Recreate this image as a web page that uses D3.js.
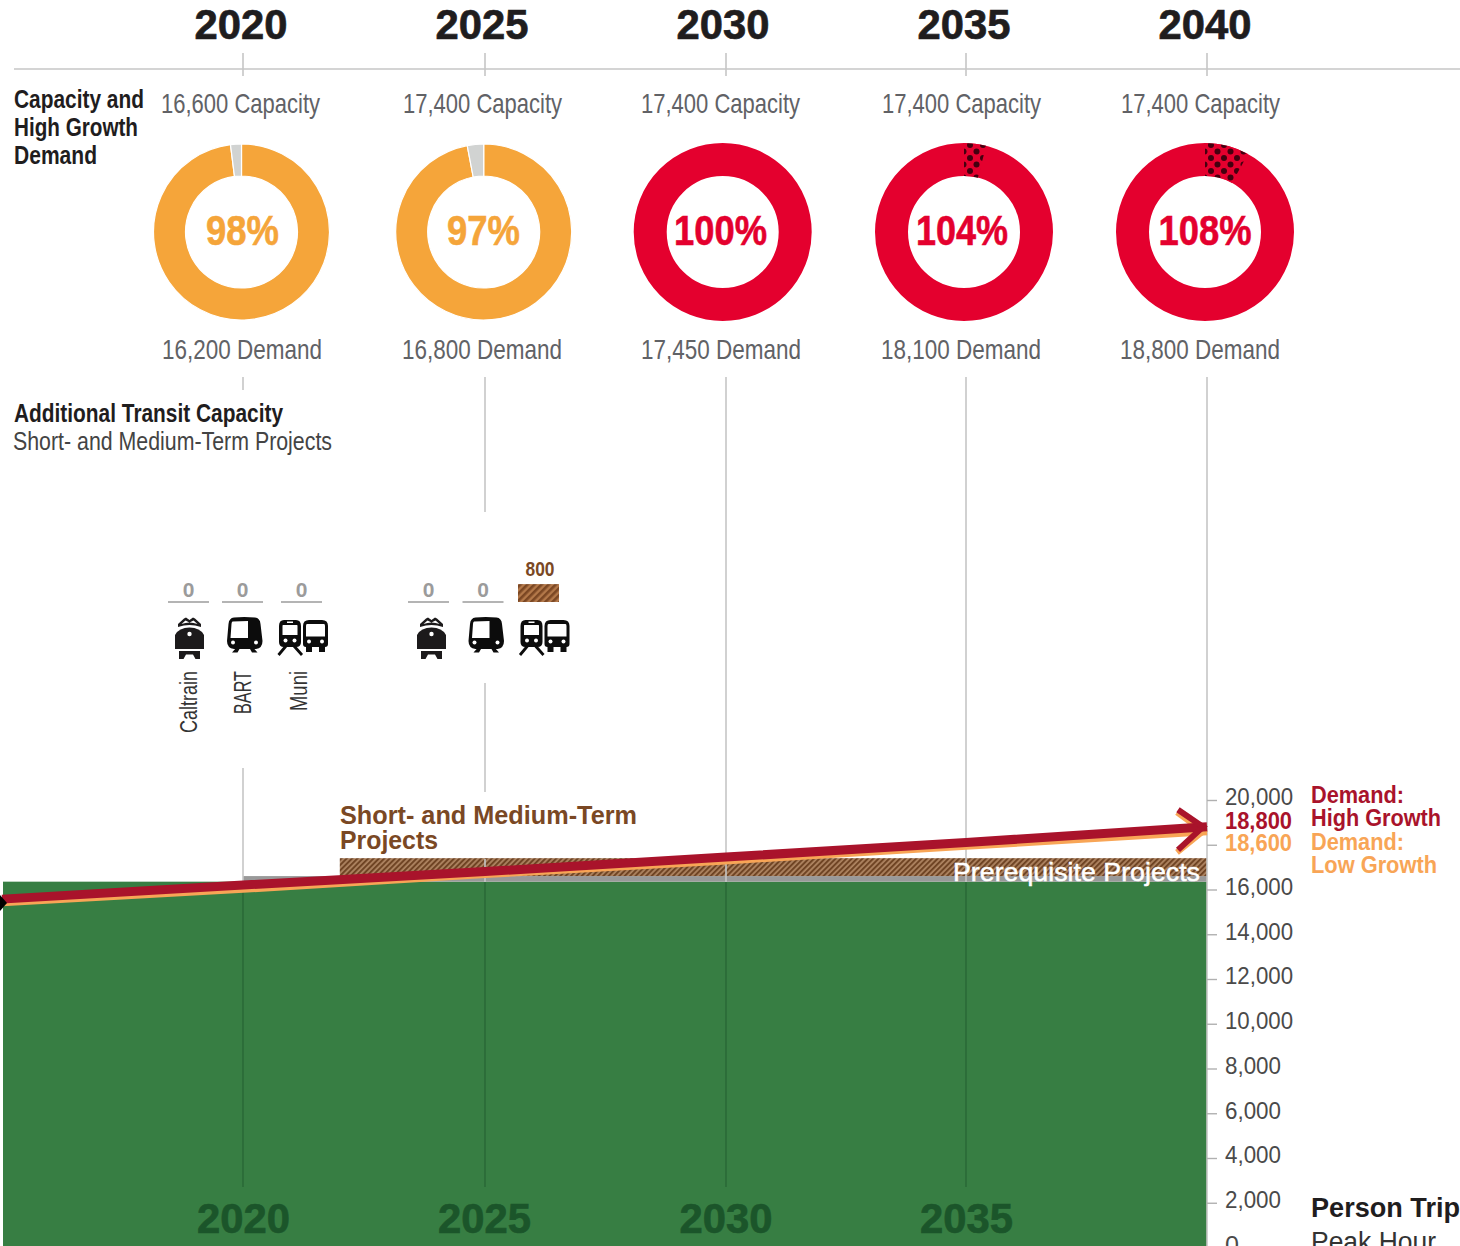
<!DOCTYPE html>
<html>
<head>
<meta charset="utf-8">
<style>
  html, body { margin: 0; padding: 0; background: #fff; overflow: hidden; }
  svg { display: block; }
  text { font-family: "Liberation Sans Narrow", "Liberation Sans", sans-serif; }
</style>
<script src="https://cdnjs.cloudflare.com/ajax/libs/d3/7.8.5/d3.min.js"></script>
</head>
<body>
<svg id="chart" width="1460" height="1246"></svg>
<script>
// Peak-hour person trips against transit capacity, 2020 to 2040
const years = [2020, 2025, 2030, 2035, 2040];
const capacity = [16600, 17400, 17400, 17400, 17400];
const demand = [16200, 16800, 17450, 18100, 18800];
const percent = [98, 97, 100, 104, 108];
const trendYears = [2015, 2020, 2025, 2030, 2035, 2040];
const highGrowth = [15570, 16200, 16800, 17450, 18100, 18800];
const lowGrowth = [15430, 16030, 16690, 17300, 17950, 18600];
const existingCapacity = 16350;
const prerequisiteTop = 16600;
const shortMediumTop = 17400;
const shortMediumStart = 2022;
const axisTicks = [0, 2000, 4000, 6000, 8000, 10000, 12000, 14000, 16000, 18000, 20000];
const operators = ["Caltrain", "BART", "Muni"];
const additions2020 = [0, 0, 0];
const additions2025 = [0, 0, 800];

const COL = {
  orange: "#f5a53a", red: "#e4002e", green: "#377e43", greenDark: "#1b552a", gridGreen: "#2a6a38",
  grey: "#c6c6c6", slice: "#d1d3d2", band: "#999999", brown: "#7a4824",
  high: "#a9132b", low: "#f8a556", ink: "#1f1d1e", soft: "#616266", zero: "#9b9b9b"
};

const svg = d3.select("#chart");
const defs = svg.append("defs");

// Diagonal brown hatch used by the project bands and the 800 swatch
function addHatch(id, size, bg, fg, w) {
  const p = defs.append("pattern").attr("id", id).attr("patternUnits", "userSpaceOnUse")
    .attr("width", size).attr("height", size).attr("patternTransform", "rotate(45)");
  p.append("rect").attr("width", size).attr("height", size).attr("fill", bg);
  p.append("rect").attr("width", w).attr("height", size).attr("fill", fg);
}
addHatch("hatch", 3.8, "#ad8360", "#6f4424", 2);
addHatch("hatchSwatch", 5, "#b4794a", "#7b4723", 2.6);

// Staggered dots marking demand above capacity on the rings
const dots = defs.append("pattern").attr("id", "overflowDots").attr("patternUnits", "userSpaceOnUse")
  .attr("width", 13).attr("height", 13).attr("x", 3).attr("y", 1);
dots.append("rect").attr("width", 13).attr("height", 13).attr("fill", COL.red);
[[3, 3], [9.5, 9.5]].forEach(c => dots.append("circle").attr("cx", c[0]).attr("cy", c[1]).attr("r", 3).attr("fill", "#43000f"));

function label(text, x, y, o) {
  const t = svg.append("text").attr("x", x).attr("y", y).text(text)
    .attr("font-size", o.size).attr("font-weight", o.weight || 400).attr("fill", o.color || COL.ink)
    .attr("text-anchor", o.anchor || "start");
  if (o.family) t.style("font-family", o.family);
  if (o.width) t.attr("textLength", o.width).attr("lengthAdjust", "spacingAndGlyphs");
  if (o.rotate) t.attr("transform", `rotate(${o.rotate} ${x} ${y})`);
  if (o.heavy) t.attr("stroke", o.color || COL.ink).attr("stroke-width", o.heavy);
  return t;
}

const WIDE = '"Liberation Sans", sans-serif';

// Shared scales for the whole timeline
const x = d3.scaleLinear().domain([2015, 2020, 2025, 2030, 2035, 2040]).range([2, 243, 485, 726, 966, 1207]);
const y = d3.scaleLinear().domain([0, 20000]).range([1247.5, 800]);
const chartBottom = 1246;

// Stacked capacity area
const area = svg.append("g");
area.append("rect").attr("x", x(2015) + 1).attr("width", x(2040) - x(2015) - 1)
  .attr("y", y(existingCapacity)).attr("height", chartBottom - y(existingCapacity)).attr("fill", COL.green);
area.append("rect").attr("x", x(2020)).attr("width", x(2040) - x(2020))
  .attr("y", y(prerequisiteTop)).attr("height", y(existingCapacity) - y(prerequisiteTop)).attr("fill", COL.band);
area.append("rect").attr("x", x(shortMediumStart)).attr("width", x(2040) - x(shortMediumStart))
  .attr("y", y(shortMediumTop)).attr("height", y(prerequisiteTop) - y(shortMediumTop)).attr("fill", "url(#hatch)");

// Year guides, broken where the ring and icon blocks sit
const guideSpans = [
  [[53, 76], [377, 390], [768, 882]],
  [[53, 76], [377, 512], [683, 792], [859, 882]],
  [[53, 76], [377, 882]],
  [[53, 76], [377, 882]],
  [[53, 76], [377, chartBottom]]
];
years.forEach((yr, i) => {
  guideSpans[i].forEach(s => {
    svg.append("line").attr("x1", x(yr)).attr("x2", x(yr)).attr("y1", s[0]).attr("y2", s[1])
      .attr("stroke", COL.grey).attr("stroke-width", 1.6);
  });
  if (yr < 2040) {
    svg.append("line").attr("x1", x(yr)).attr("x2", x(yr)).attr("y1", 882).attr("y2", 1187)
      .attr("stroke", COL.gridGreen).attr("stroke-width", 1.6);
  }
});
svg.append("line").attr("x1", 14).attr("x2", 1460).attr("y1", 69).attr("y2", 69)
  .attr("stroke", COL.grey).attr("stroke-width", 1.6);

// Year headers above the rings and inside the green area
const headerCentres = [241, 482, 723, 964, 1205];
const footerCentres = [243.5, 484.5, 726, 966.5];
years.forEach((yr, i) => label(yr, headerCentres[i], 38.5, { size: 43, weight: 700, anchor: "middle", width: 93, family: WIDE, heavy: 0.7 }));
years.slice(0, 4).forEach((yr, i) => label(yr, footerCentres[i], 1233, { size: 43, weight: 700, anchor: "middle", width: 93, color: COL.greenDark, family: WIDE, heavy: 0.7 }));

// Section headings
label("Capacity and", 14, 107.5, { size: 25, weight: 700, width: 130 });
label("High Growth", 14, 135.5, { size: 25, weight: 700, width: 124 });
label("Demand", 14, 163.5, { size: 25, weight: 700, width: 83 });
label("Additional Transit Capacity", 14, 422, { size: 25, weight: 700, width: 269 });
label("Short- and Medium-Term Projects", 13, 450, { size: 25, width: 319, color: "#444" });

// Capacity and demand rings
const ringCentres = [241.5, 483.7, 722.7, 964, 1205];
const capLeft = [161, 403, 641, 882, 1121];
const demLeft = [162, 402, 641, 881, 1120];
const pctWidth = [73, 73, 93, 92, 93];
const pctCentre = [242.5, 483.5, 720.5, 962, 1205];
const pie = d3.pie().sort(null).value(d => d.v);

years.forEach((yr, i) => {
  const over = percent[i] >= 100;
  const outer = over ? 89 : 88;
  const arc = d3.arc().innerRadius(56).outerRadius(outer);
  const g = svg.append("g").attr("transform", `translate(${ringCentres[i]},232)`);
  if (over) {
    g.append("circle").attr("r", (outer + 56) / 2).attr("fill", "none")
      .attr("stroke", COL.red).attr("stroke-width", outer - 56);
    const extra = percent[i] - 100;
    if (extra > 0) {
      g.append("path").attr("d", arc({ startAngle: 0, endAngle: extra / 100 * 2 * Math.PI }))
        .attr("fill", "url(#overflowDots)");
    }
  } else {
    const slices = pie([{ v: percent[i], c: COL.orange }, { v: 100 - percent[i], c: COL.slice }]);
    g.selectAll("path").data(slices).join("path").attr("d", arc).attr("fill", d => d.data.c)
      .attr("stroke", "#fff").attr("stroke-width", 1.2);
  }
  label(`${percent[i]}%`, pctCentre[i], 245, { size: 43, weight: 700, anchor: "middle", width: pctWidth[i], color: over ? COL.red : COL.orange, heavy: 0.6 });
  label(`${d3.format(",")(capacity[i])} Capacity`, capLeft[i], 112.5, { size: 28, width: 159, color: COL.soft });
  label(`${d3.format(",")(demand[i])} Demand`, demLeft[i], 359, { size: 28, width: 160, color: COL.soft });
});

// Operator pictograms, each built in its own local box
function icon(kind, ox, oy) {
  const g = svg.append("g").attr("transform", `translate(${ox},${oy})`);
  const ink = "#0c0c0c";
  const lamp = (cx, cy, r) => g.append("circle").attr("cx", cx).attr("cy", cy).attr("r", r).attr("fill", "#fff");
  if (kind === "Caltrain") {
    g.append("path").attr("fill", "#1c1a1b").attr("fill-rule", "evenodd")
      .attr("d", "M3 11V8L9 2.5L11 1.5L14.5 4L18 1.5L20 2.5L26 8V11Q14.5 7 3 11ZM6.5 8Q14.5 5 22.5 8L18.5 4.5L14.5 6.5L10.5 4.5Z");
    g.append("path").attr("fill", "#1c1a1b")
      .attr("d", "M0 19Q4 11.5 14.5 11.5Q25 11.5 29 19V33H0Z");
    lamp(14.5, 18, 2.2);
    g.append("path").attr("fill", "#1c1a1b")
      .attr("d", "M4 35H25V43H20.5L18 38.5H11L8.5 43H4Z");
  } else if (kind === "BART") {
    g.append("path").attr("fill", ink).attr("fill-rule", "evenodd")
      .attr("d", "M7 0.5Q17 -0.5 28 0.5Q33 1 33.5 7L35.5 24Q35.5 31 29 32H7Q0 31 0 24L1.5 7Q2 1 7 0.5ZM5.5 4.5Q4.5 5 4.5 7L3.5 21H21V4Z");
    lamp(6, 25.5, 2);
    lamp(29, 25.5, 2);
    g.append("path").attr("d", "M9 31L5 35.5H10.5L12.5 32H23L25 35.5H30.5L26.5 31Z").attr("fill", ink);
  } else {
    g.append("path").attr("fill", ink).attr("fill-rule", "evenodd")
      .attr("d", "M6 0H18Q23 0 23 6V22Q23 27 18 27H6Q1 27 1 22V6Q1 0 6 0ZM5 5Q4.5 5 4.5 6V15H19.5V6Q19.5 5 19 5ZM9 1.5V3H15V1.5Z");
    lamp(7.5, 20.5, 2);
    lamp(16.5, 20.5, 2);
    g.append("path").attr("d", "M8 26L0.5 35M16 26L24 35").attr("stroke", ink).attr("stroke-width", 2.8);
    g.append("path").attr("fill", ink).attr("fill-rule", "evenodd")
      .attr("d", "M31 0H44Q50 0 50 6V24Q50 27 47 27V32H41V27H34V32H28V27Q25 27 25 24V6Q25 0 31 0ZM29 4Q28 4 28 6V16.5H47V6Q47 4 46 4Z");
    lamp(31, 21.5, 2);
    lamp(44, 21.5, 2);
  }
}

const slotLeft = [[168, 222, 281], [408, 462.5, 518]];
const iconPos = [[[175, 616], [227, 617], [278, 620]], [[417, 616], [468.5, 617], [519.5, 620]]];
[additions2020, additions2025].forEach((vals, gi) => {
  vals.forEach((v, i) => {
    const left = slotLeft[gi][i];
    if (v === 0) {
      svg.append("line").attr("x1", left).attr("x2", left + 41).attr("y1", 602).attr("y2", 602)
        .attr("stroke", COL.zero).attr("stroke-width", 1.6);
      label(v, left + 20.7, 596.5, { size: 21, weight: 700, anchor: "middle", color: COL.zero });
    } else {
      // Swatch height follows the value on the shared person-trip scale
      svg.append("rect").attr("x", left).attr("y", 602 - (y(0) - y(v))).attr("width", 41).attr("height", y(0) - y(v))
        .attr("fill", "url(#hatchSwatch)");
      label(v, left + 22, 575.5, { size: 21, weight: 700, anchor: "middle", color: COL.brown, width: 29 });
    }
    icon(operators[i], iconPos[gi][i][0], iconPos[gi][i][1]);
  });
});
const opX = [196.7, 251, 307];
const opW = [62, 43, 40];
operators.forEach((name, i) => label(name, opX[i], 671, { size: 23, anchor: "end", rotate: -90, width: opW[i], color: "#333" }));

// Band captions
label("Short- and Medium-Term", 340, 823.5, { size: 25.5, weight: 700, width: 297, color: COL.brown, family: WIDE });
label("Projects", 340, 849, { size: 25.5, weight: 700, width: 98, color: COL.brown, family: WIDE });

// Demand trajectories, low growth underneath high growth
const line = d3.line().x((d, i) => x(trendYears[i])).y(d => y(d));
const series = [
  { v: lowGrowth, c: COL.low, width: 8, up: 19, down: 21, back: 26 },
  { v: highGrowth, c: COL.high, width: 9, up: 17, down: 23, back: 25 }
];
series.forEach(s => {
  svg.append("path").attr("d", line(s.v)).attr("fill", "none").attr("stroke", s.c).attr("stroke-width", s.width);
  const end = y(s.v[s.v.length - 1]);
  const tip = x(2040) - 4;
  svg.append("path").attr("d", `M${tip - s.back} ${end - s.up}L${tip} ${end}L${tip - s.back} ${end + s.down}`)
    .attr("fill", "none").attr("stroke", s.c).attr("stroke-width", 6);
});
svg.append("path").attr("d", `M0 895L7 903L0 911Z`).attr("fill", "#000");

label("Prerequisite Projects", 953, 880.5, { size: 25.5, width: 247, color: "#fff", family: WIDE, heavy: 0.5 });

// Person-trip axis on the right edge
const axis = d3.axisRight(y).tickValues(axisTicks).tickSize(10).tickPadding(7)
  .tickFormat(d => d === 18000 ? "" : d3.format(",")(d));
const axisG = svg.append("g").attr("transform", `translate(${x(2040)},0)`).call(axis);
axisG.select(".domain").remove();
axisG.selectAll(".tick line").attr("stroke", "#b0b0b0").attr("stroke-width", 1.4);
axisG.selectAll(".tick text")
  .attr("fill", "#4a4a4a").attr("font-size", 24).attr("dy", "0.2em")
  .style("font-family", WIDE).attr("lengthAdjust", "spacingAndGlyphs")
  .attr("textLength", d => d === 0 ? 14 : d < 10000 ? 56 : 68).attr("x", 18);

label(d3.format(",")(highGrowth[5]), 1225, 828.5, { size: 24, weight: 700, width: 67, color: COL.high, family: WIDE });
label(d3.format(",")(lowGrowth[5]), 1225, 851, { size: 24, weight: 700, width: 67, color: COL.low, family: WIDE });

// Legend and axis title
label("Demand:", 1311, 803, { size: 23, weight: 700, width: 93, color: COL.high, family: WIDE });
label("High Growth", 1311, 825.5, { size: 23, weight: 700, width: 130, color: COL.high, family: WIDE });
label("Demand:", 1311, 850, { size: 23, weight: 700, width: 93, color: COL.low, family: WIDE });
label("Low Growth", 1311, 873, { size: 23, weight: 700, width: 126, color: COL.low, family: WIDE });
label("Person Trip", 1311, 1217, { size: 27, weight: 700, width: 149, family: WIDE });
label("Peak Hour", 1311, 1251, { size: 27, width: 125, color: "#333", family: WIDE });
</script>
</body>
</html>
